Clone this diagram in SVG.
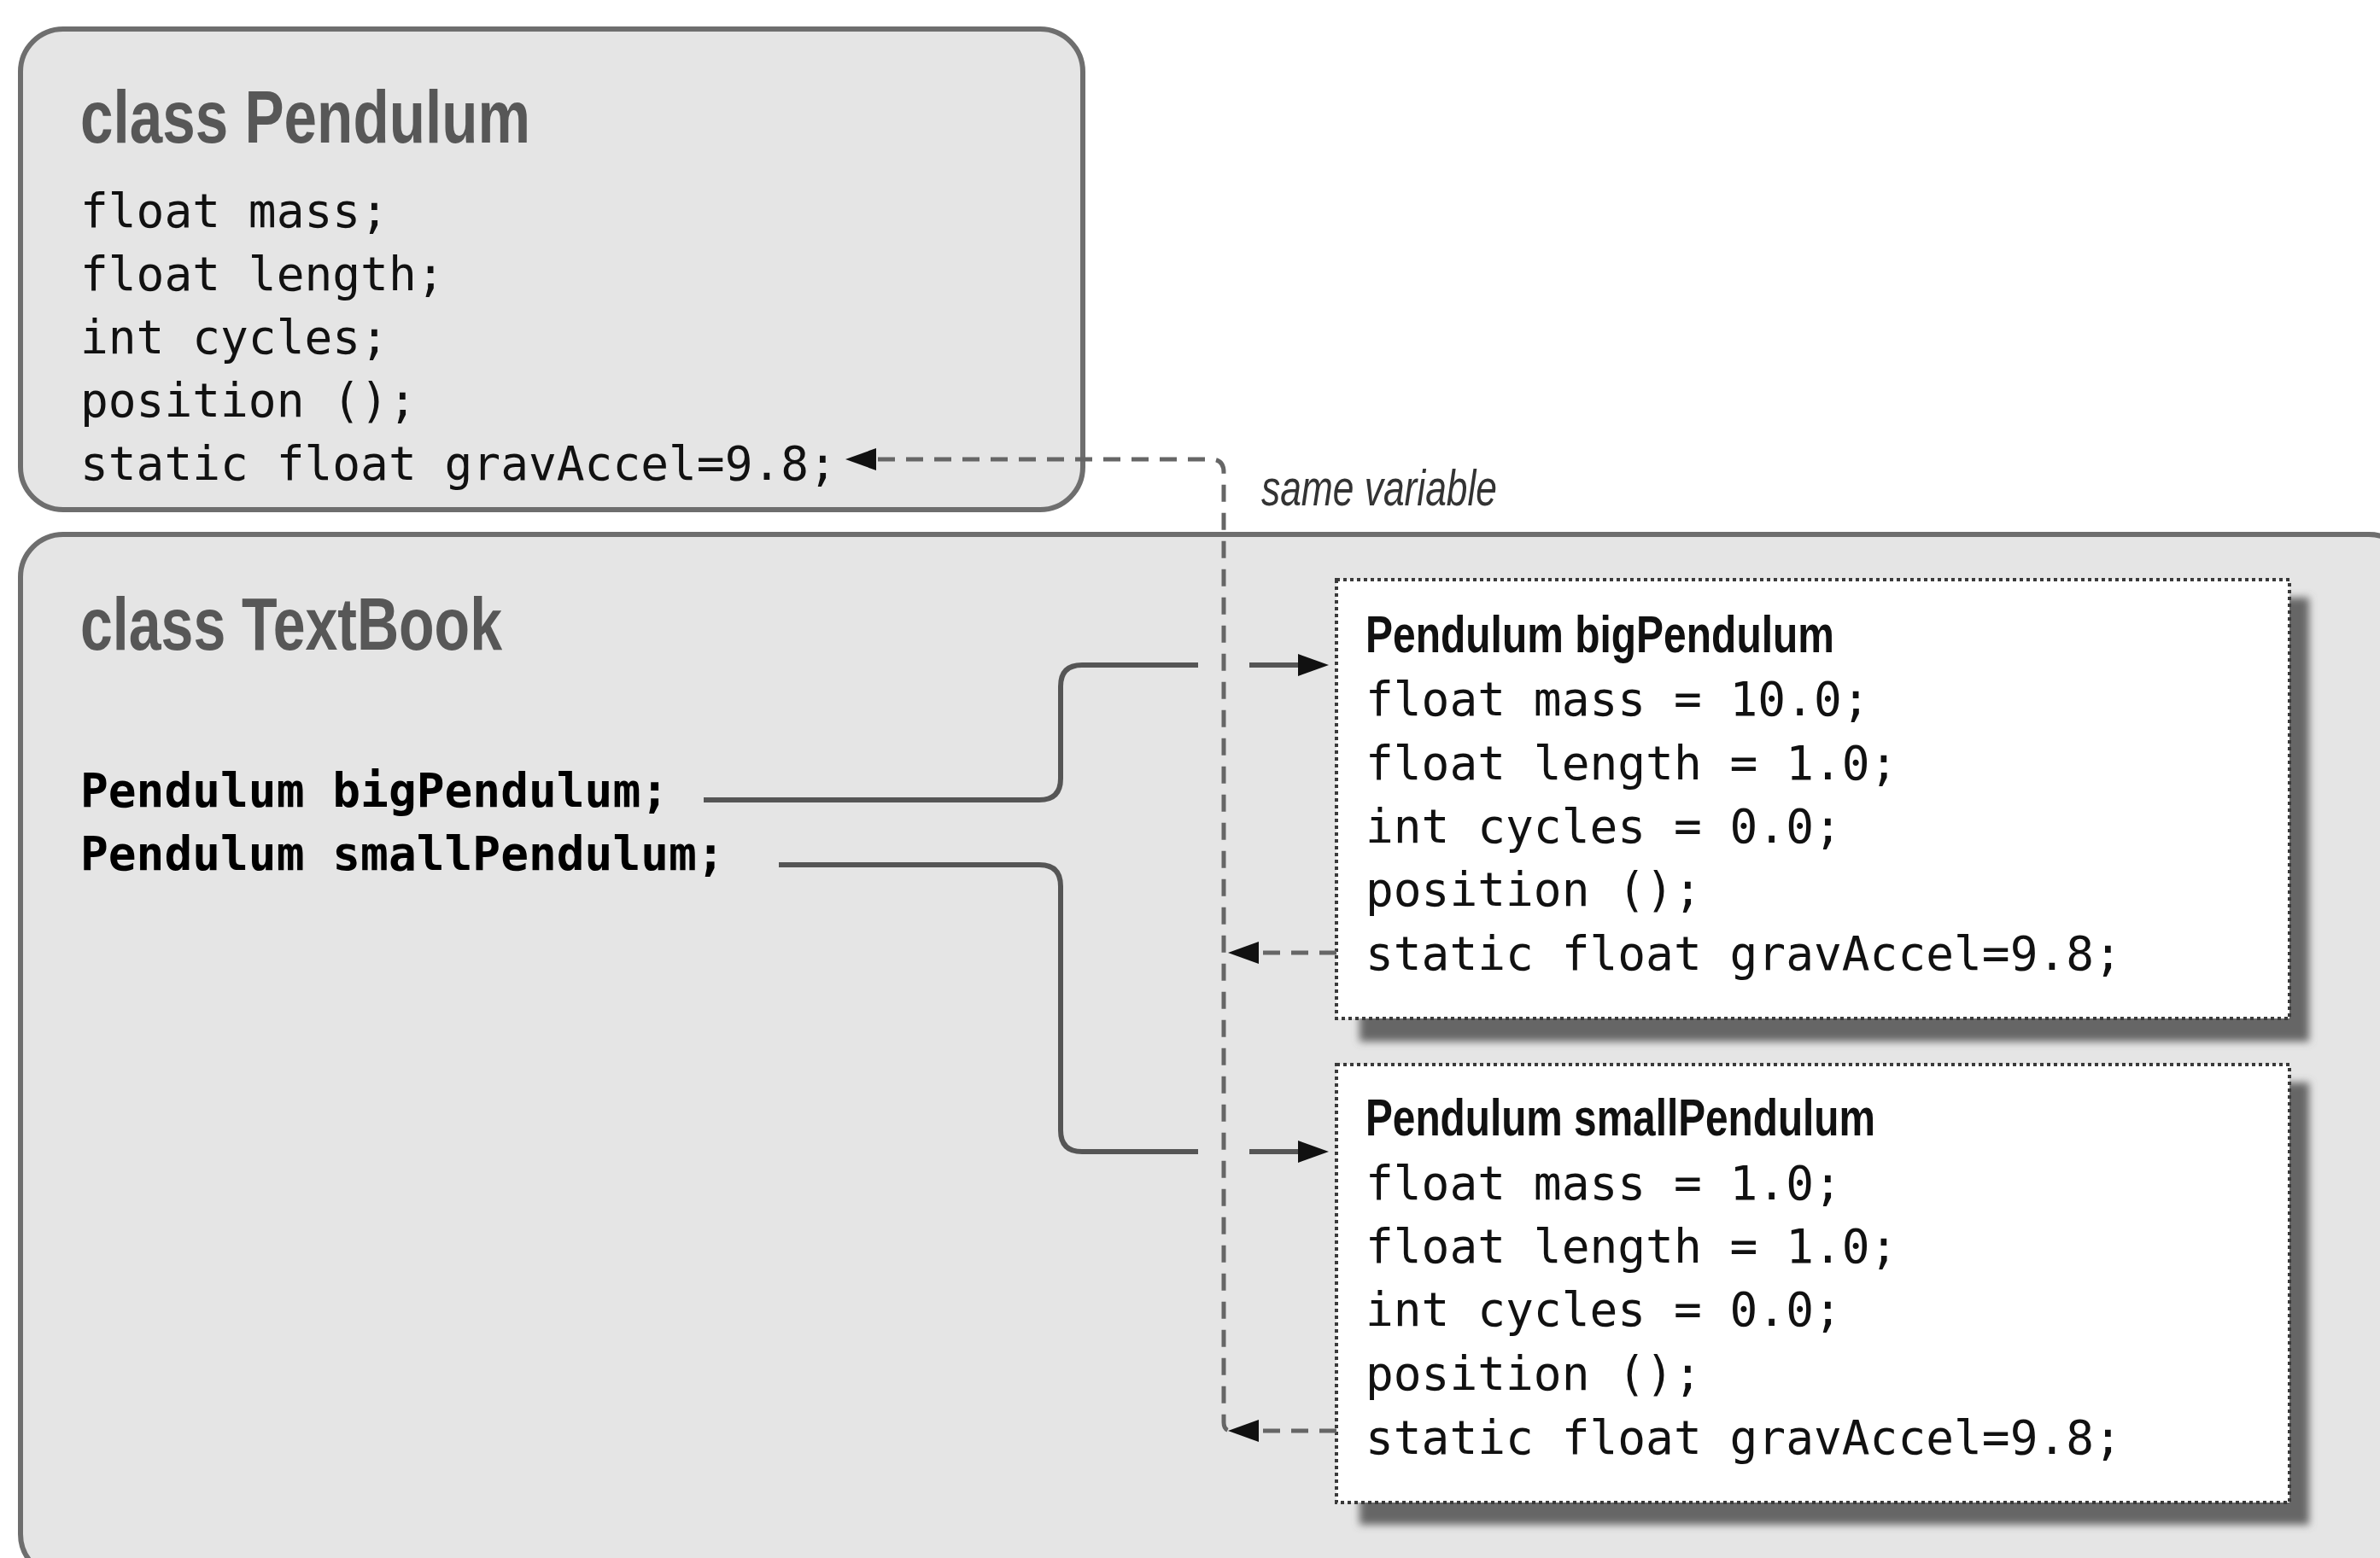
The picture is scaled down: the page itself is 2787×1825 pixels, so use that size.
<svg xmlns="http://www.w3.org/2000/svg" width="2787" height="1825" viewBox="0 0 2787 1825">
<style>
.cls{fill:#e5e5e5;stroke:#6e6e6e;stroke-width:6}
.title{font-family:"Liberation Sans Narrow","Liberation Sans",Arial,sans-serif;font-weight:bold;font-size:88px;fill:#575757}
.code{font-family:"DejaVu Sans Mono","Liberation Mono",monospace;font-size:54.5px;fill:#111}
.bcode{font-family:"DejaVu Sans Mono","Liberation Mono",monospace;font-size:54.5px;fill:#000;font-weight:bold}
.inst{fill:#fff;stroke:#3a3a3a;stroke-width:4;stroke-dasharray:4 4}
.ititle{font-family:"Liberation Sans Narrow","Liberation Sans",Arial,sans-serif;font-weight:bold;font-size:62px;fill:#111}
.note{font-family:"Liberation Sans Narrow","Liberation Sans",Arial,sans-serif;font-style:italic;font-size:60px;fill:#333}
.solid{fill:none;stroke:#555;stroke-width:6}
.dash{fill:none;stroke:#666;stroke-width:5;stroke-dasharray:20 13}
.head{fill:#111}
.shadow{fill:#666}
</style>
<defs>
<filter id="blur" x="-5%" y="-5%" width="110%" height="110%"><feGaussianBlur stdDeviation="5"/></filter>
</defs>
<rect x="0" y="0" width="2787" height="1825" fill="#fff"/>

<g id="textbook">
<rect class="cls" x="24" y="626" width="2800" height="1221" rx="50" ry="50"/>
<text class="title" x="94" y="761" textLength="494" lengthAdjust="spacingAndGlyphs">class TextBook</text>
<text class="bcode" x="94" y="945">Pendulum bigPendulum;</text>
<text class="bcode" x="94" y="1019">Pendulum smallPendulum;</text>
</g>

<g id="pendulum">
<rect class="cls" x="24" y="34" width="1244" height="563" rx="50" ry="50"/>
<text class="title" x="94" y="167" textLength="527" lengthAdjust="spacingAndGlyphs">class Pendulum</text>
<text class="code" x="94" y="266">float mass;</text>
<text class="code" x="94" y="340">float length;</text>
<text class="code" x="94" y="414">int cycles;</text>
<text class="code" x="94" y="488">position ();</text>
<text class="code" x="94" y="562">static float gravAccel=9.8;</text>
</g>

<g id="bigPendulum">
<rect class="shadow" x="1592" y="700" width="1112" height="520" filter="url(#blur)"/>
<rect class="inst" x="1565" y="679" width="1116" height="514"/>
<text class="ititle" x="1599" y="764" textLength="549" lengthAdjust="spacingAndGlyphs">Pendulum bigPendulum</text>
<text class="code" x="1599" y="838">float mass = 10.0;</text>
<text class="code" x="1599" y="913">float length = 1.0;</text>
<text class="code" x="1599" y="987">int cycles = 0.0;</text>
<text class="code" x="1599" y="1061">position ();</text>
<text class="code" x="1599" y="1136">static float gravAccel=9.8;</text>
</g>

<g id="smallPendulum">
<rect class="shadow" x="1592" y="1268" width="1112" height="518" filter="url(#blur)"/>
<rect class="inst" x="1565" y="1247" width="1116" height="513"/>
<text class="ititle" x="1599" y="1330" textLength="597" lengthAdjust="spacingAndGlyphs">Pendulum smallPendulum</text>
<text class="code" x="1599" y="1405">float mass = 1.0;</text>
<text class="code" x="1599" y="1479">float length = 1.0;</text>
<text class="code" x="1599" y="1553">int cycles = 0.0;</text>
<text class="code" x="1599" y="1628">position ();</text>
<text class="code" x="1599" y="1703">static float gravAccel=9.8;</text>
</g>

<g id="connectors">
<path class="solid" d="M824 937 H1217 Q1242 937 1242 912 V804 Q1242 779 1267 779 H1403"/>
<path class="solid" d="M1463 779 H1524"/>
<polygon class="head" points="1556,779 1520,766 1520,792"/>
<path class="solid" d="M912 1013 H1217 Q1242 1013 1242 1038 V1324 Q1242 1349 1267 1349 H1403"/>
<path class="solid" d="M1463 1349 H1524"/>
<polygon class="head" points="1556,1349 1520,1336 1520,1362"/>
<path class="dash" d="M1028 538 H1418 Q1433 538 1433 553 V1666 Q1433 1676 1442 1676"/>
<polygon class="head" points="990,538 1026,525 1026,551"/>
<path class="dash" d="M1565 1116 H1472"/>
<polygon class="head" points="1438,1116 1474,1103 1474,1129"/>
<path class="dash" d="M1565 1676 H1472"/>
<polygon class="head" points="1438,1676 1474,1663 1474,1689"/>
<text class="note" x="1477" y="592" textLength="276" lengthAdjust="spacingAndGlyphs">same variable</text>
</g>
</svg>
